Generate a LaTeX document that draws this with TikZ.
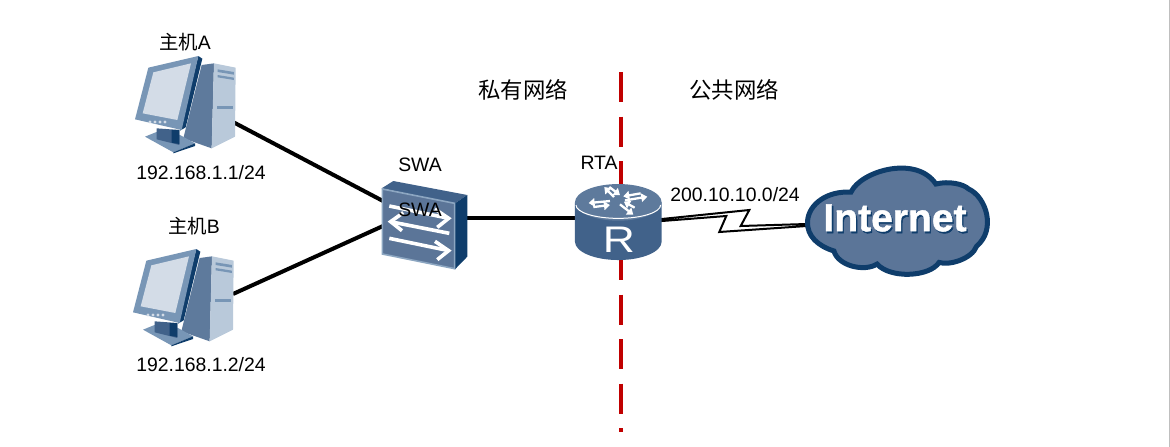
\documentclass[tikz,border=0pt]{standalone}
\usepackage{fontspec}
\setmainfont{Liberation Sans}
\newfontfamily\cjk{Noto Sans CJK SC}
\newfontfamily\inetfont[FakeBold=1.2]{Liberation Sans Bold}
\usetikzlibrary{arrows.meta}
\definecolor{deepblue}{HTML}{0F3D6B}
\definecolor{midblue}{HTML}{41628A}
\definecolor{slateblue}{HTML}{5B7598}
\definecolor{paleblue}{HTML}{7896B6}
\definecolor{screenblue}{HTML}{D3DCE7}
\definecolor{towerblue}{HTML}{B9C9DA}
\definecolor{divred}{HTML}{C00000}
\tikzset{
  link/.style={line width=4pt,black},
  wanlink/.style={line width=2pt,black,fill=white,line join=miter},
  divider/.style={line width=4pt,divred,dash pattern=on 30pt off 14.5pt},
  lbl/.style={inner sep=0pt,font=\fontsize{19.4}{22}\selectfont},
  cjklbl/.style={inner sep=0pt,font=\fontsize{22.4}{26}\selectfont\cjk},
  hostlbl/.style={inner sep=0pt,font=\fontsize{19.4}{22}\selectfont},
  swarrow/.style={line width=3.6pt,white,line join=miter},
  rtarrow/.style={line width=2.3pt,white,-{Triangle[length=6pt,width=8.5pt]}},
  hosticon/.pic={
    \begin{scope}[x=0.3333pt,y=-0.3333pt,shift={(-195,-255)}]
      % tower
      \fill[midblue!85] (245,135) -- (282,130) -- (275,385) -- (190,355) -- cycle;
      \fill[towerblue] (282,130) -- (347,143) -- (345,350) -- (275,385) -- cycle;
      \fill[paleblue] (293,148) -- (342,156) -- (342,164) -- (293,156) -- cycle;
      \fill[paleblue] (293,165) -- (342,173) -- (342,180) -- (293,172) -- cycle;
      \fill[paleblue] (292,258) -- (340,258) -- (340,268) -- (292,268) -- cycle;
      % stand
      \fill[paleblue] (75,350) -- (112,335) -- (180,345) -- (225,370) -- (160,397) -- cycle;
      \fill[midblue] (110,325) -- (178,330) -- (178,375) -- (110,358) -- cycle;
      \fill[deepblue] (155,330) -- (178,330) -- (178,372) -- (155,368) -- cycle;
      \fill[deepblue] (160,397) -- (225,370) -- (225,378) -- (160,400) -- cycle;
      % monitor
      \fill[deepblue] (235,108) -- (247,116) -- (197,322) -- (180,332) -- cycle;
      \fill[paleblue] (45,298) -- (85,143) -- (235,108) -- (185,330) -- cycle;
      \fill[screenblue] (68,280) -- (100,157) -- (213,130) -- (172,300) -- cycle;
      \foreach \bx in {90,105,120,135} \fill[screenblue] (\bx,306) circle (5);
    \end{scope}
  },
  switchicon/.pic={
    \begin{scope}[x=0.3333pt,y=-0.3333pt,shift={(-190,-255)}]
      \fill[midblue] (65,145) -- (100,123) -- (322,165) -- (285,190) -- cycle;
      \fill[deepblue] (285,190) -- (322,165) -- (322,350) -- (285,388) -- cycle;
      \filldraw[slateblue,draw=paleblue!85,line width=1.6pt] (67,147) -- (284,190) -- (284,386) -- (67,342) -- cycle;
      \draw[swarrow] (88,198) -- (262,234);
      \draw[swarrow] (225,207) -- (266,235) -- (232,262);
      \draw[swarrow] (268,280) -- (96,246);
      \draw[swarrow] (130,218) -- (92,245) -- (126,272);
      \draw[swarrow] (88,295) -- (262,331);
      \draw[swarrow] (225,304) -- (266,332) -- (232,359);
    \end{scope}
  },
  routericon/.pic={
    \begin{scope}[x=0.3333pt,y=-0.3333pt,shift={(-145,-125)}]
      \fill[midblue] (15,82) -- (15,200) arc[start angle=180,end angle=0,x radius=130,y radius=55] -- (275,82) -- cycle;
      \fill[midblue!85!white] (145,82) ellipse[x radius=130,y radius=55];
      \draw[white,line width=1pt] (18,90) arc[start angle=180,end angle=0,x radius=127,y radius=40];
      \draw[rtarrow] (132,66) -- (103,36);
      \draw[rtarrow] (118,36) -- (150,60);
      \draw[rtarrow] (165,76) -- (232,65);
      \draw[rtarrow] (212,55) -- (160,64);
      \draw[rtarrow] (150,88) -- (190,119);
      \draw[rtarrow] (194,98) -- (162,80);
      \draw[rtarrow] (120,78) -- (56,84);
      \draw[rtarrow] (70,96) -- (120,90);
    \end{scope}
  },
  cloudicon/.pic={
    \begin{scope}[x=0.3333pt,y=-0.3333pt,shift={(-745,-210)}]
      \filldraw[slateblue,draw=deepblue,line width=5pt,scale around={0.98:(745,205)}]
        (467,215) .. controls (470,160) and (530,120) .. (600,125)
        .. controls (630,60) and (800,10) .. (860,100)
        .. controls (900,90) and (945,100) .. (960,115)
        .. controls (1015,140) and (1045,240) .. (985,290)
        .. controls (970,330) and (900,350) .. (870,340)
        .. controls (840,385) and (720,390) .. (680,345)
        .. controls (640,370) and (560,350) .. (548,305)
        .. controls (500,290) and (465,260) .. (467,215) -- cycle;
    \end{scope}
  },
}
\begin{document}
\begin{tikzpicture}[x=1pt,y=-1pt]
  \useasboundingbox (0,0) rectangle (1170,447);
  \draw[line width=1pt,black!25] (1169.5,0) -- (1169.5,447);

  \coordinate (hostA) at (185,105);
  \coordinate (hostB) at (183,298);
  \coordinate (swa) at (423.3,225);
  \coordinate (rta) at (618.3,216.7);
  \coordinate (cloud) at (898.3,220);

  \coordinate (hostAport) at (233,122);
  \coordinate (hostBport) at (233,294);
  \coordinate (swaportA) at (383,201);
  \coordinate (swaportB) at (383,226);
  \coordinate (swaportR) at (466,217.7);
  \coordinate (rtaportS) at (577,217.7);
  \coordinate (rtaportW) at (661.7,219);
  \coordinate (cloudport) at (806.7,224);
  \coordinate (divtop) at (621,72);
  \coordinate (divbot) at (621,432);

  \draw[divider] (divtop) -- (divbot);
  \draw[link] (hostAport) -- (swaportA);
  \draw[link] (hostBport) -- (swaportB);
  \draw[link] (swaportR) -- (rtaportS);
  \draw[wanlink] (rtaportW) -- ++(87.6,-9) -- ++(-8.6,16) -- (cloudport) -- ++(0,2)
    -- ++(-87.4,6) -- ++(7,-16) -- ++(-64.3,5) -- cycle;

  \pic at (hostA) {hosticon};
  \pic at (hostB) {hosticon};
  \pic at (swa) {switchicon};
  \pic at (rta) {routericon};
  \pic at (cloud) {cloudicon};

  \node[hostlbl] (hostAname) at (185,42) {{\cjk 主机}A};
  \node[lbl] (hostAip) at (201,173) {192.168.1.1/24};
  \node[hostlbl] (hostBname) at (194,226) {{\cjk 主机}B};
  \node[lbl] (hostBip) at (201,365) {192.168.1.2/24};
  \node[lbl] (swaname) at (420,165) {SWA};
  \node[lbl] (swainner) at (420,210) {SWA};
  \node[lbl] (rtaname) at (599,163) {RTA};
  \node[cjklbl] (private) at (523,90) {私有网络};
  \node[cjklbl] (public) at (734,90) {公共网络};
  \node[lbl] (wannet) at (735,195) {200.10.10.0/24};
  \node[inner sep=0pt,white,xscale=1.2,font=\fontsize{37}{40}\selectfont] (rtaletter) at (619,240) {R};
  \node[inner sep=0pt,deepblue,font=\fontsize{39}{42}\inetfont] (inetshadow) at (896.3,219.8) {Internet};
  \node[inner sep=0pt,white,font=\fontsize{39}{42}\inetfont] (inetname) at (895,218) {Internet};
\end{tikzpicture}
\end{document}
